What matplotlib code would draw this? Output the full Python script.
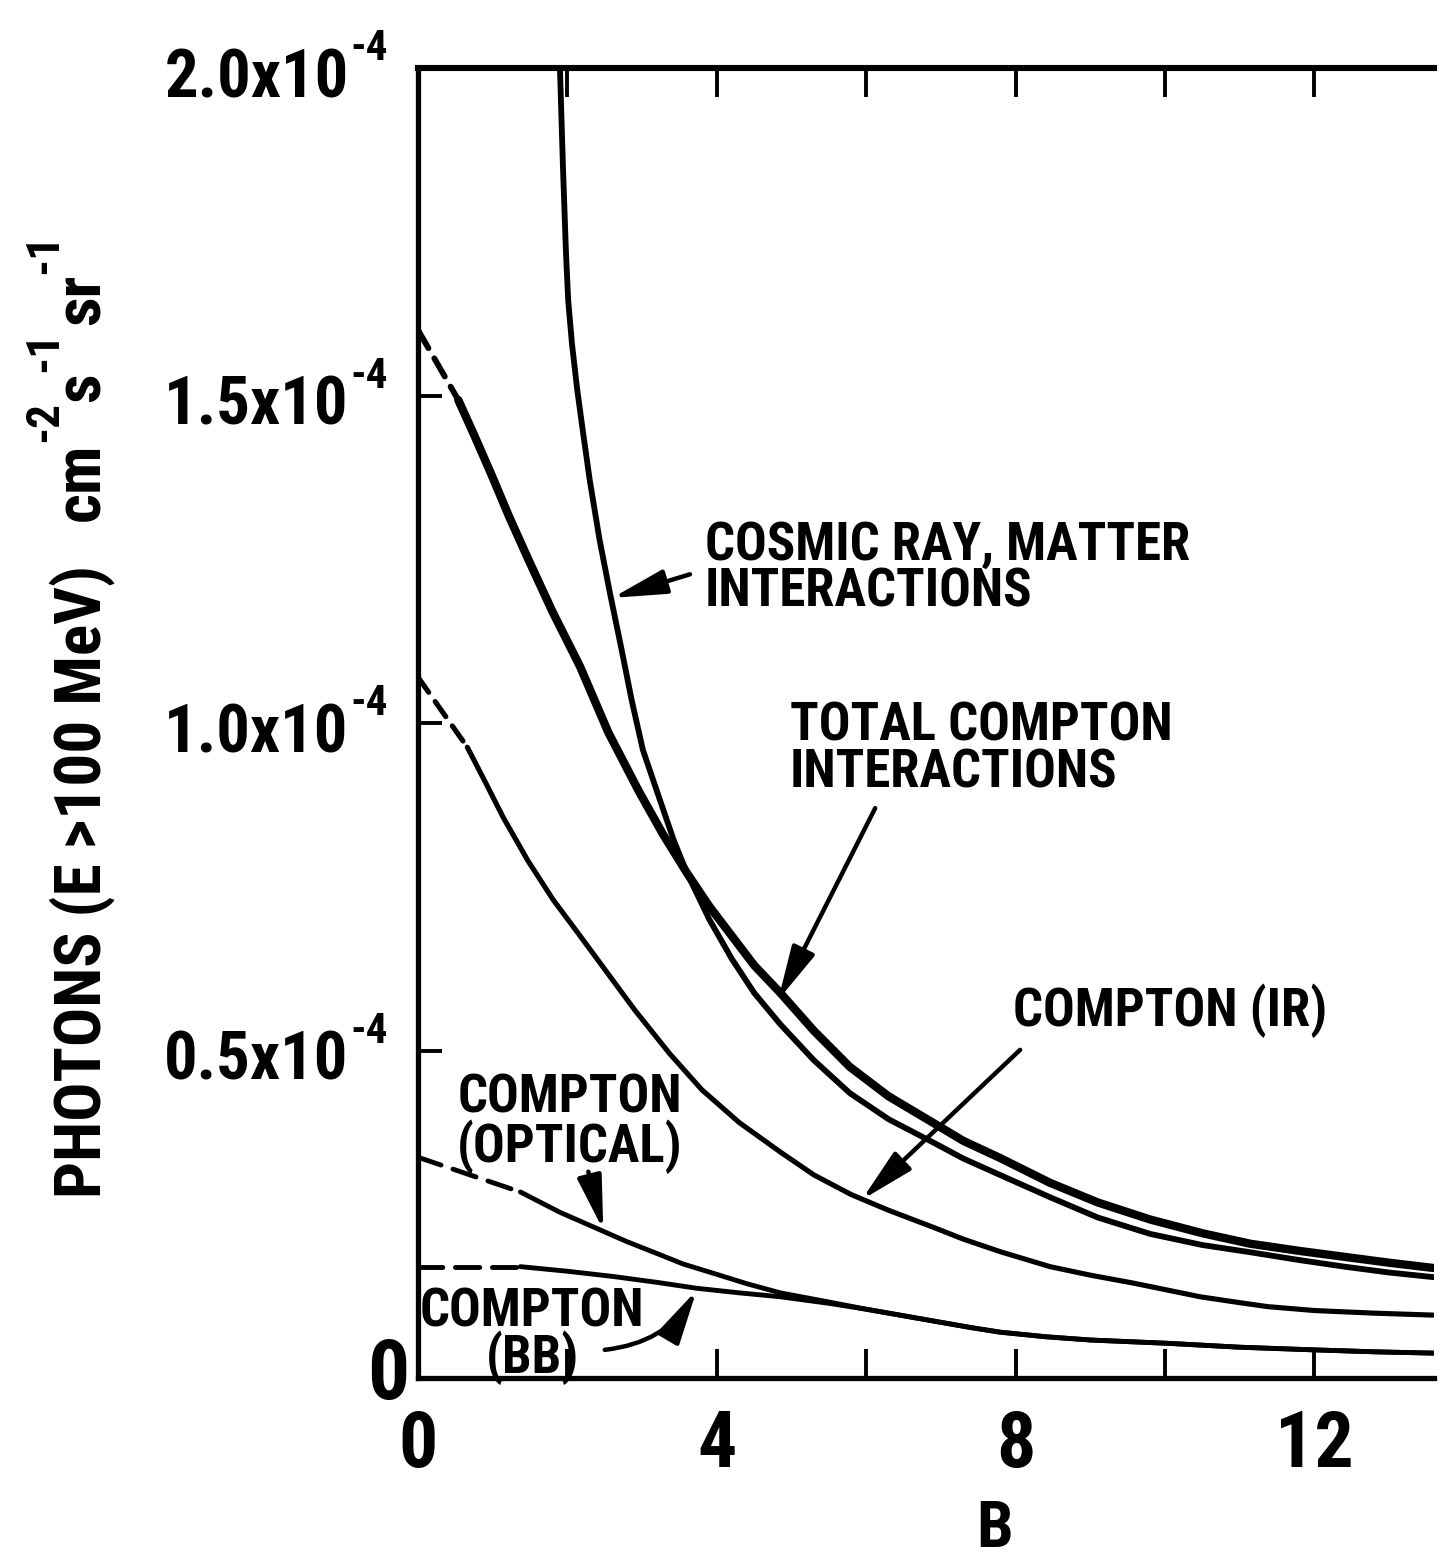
import matplotlib
matplotlib.use("Agg")
import matplotlib.pyplot as plt
import matplotlib.font_manager as fm
from matplotlib.transforms import IdentityTransform

# values in units of 1e-4 photons cm^-2 s^-1 sr^-1
cosmic_x = [1.90, 1.94, 1.98, 2.01, 2.06, 2.13, 2.21, 2.30, 2.43, 2.57, 2.72, 2.86, 3.01,
            3.24, 3.42, 3.60, 3.90, 4.20, 4.50, 4.85, 5.30, 5.78, 6.30, 6.89, 7.30, 7.79,
            8.46, 9.10, 9.80, 10.50, 11.14, 11.80, 12.40, 13.00, 13.59]
cosmic_y = [2.00, 1.85, 1.72, 1.646, 1.58, 1.51, 1.443, 1.37, 1.28, 1.198, 1.115, 1.035, 0.959,
            0.882, 0.822, 0.771, 0.700, 0.640, 0.588, 0.540, 0.485, 0.435, 0.395, 0.360, 0.335,
            0.310, 0.276, 0.245, 0.220, 0.203, 0.192, 0.180, 0.170, 0.161, 0.154]

total_dash_x = [0.0, 0.54]
total_dash_y = [1.60, 1.493]
total_x = [0.54, 0.75, 0.98, 1.22, 1.48, 1.80, 2.17, 2.55, 2.96, 3.28, 3.60, 3.90, 4.20, 4.50,
           4.85, 5.30, 5.78, 6.30, 6.89, 7.30, 7.79, 8.46, 9.10, 9.80, 10.50, 11.14, 11.80,
           12.40, 13.00, 13.59]
total_y = [1.493, 1.44, 1.38, 1.315, 1.249, 1.170, 1.086, 0.985, 0.895, 0.830, 0.771, 0.720,
           0.675, 0.630, 0.588, 0.530, 0.475, 0.430, 0.390, 0.362, 0.336, 0.298, 0.268, 0.242,
           0.221, 0.205, 0.194, 0.185, 0.176, 0.168]

ir_dash_x = [0.0, 0.66]
ir_dash_y = [1.07, 0.963]
ir_x = [0.66, 0.90, 1.14, 1.47, 1.81, 2.15, 2.48, 2.90, 3.37, 3.80, 4.30, 4.85, 5.30, 5.80,
        6.30, 6.90, 7.30, 7.79, 8.46, 9.00, 9.57, 10.00, 10.47, 11.00, 11.37, 12.00, 12.80,
        13.59]
ir_y = [0.963, 0.910, 0.856, 0.790, 0.730, 0.678, 0.627, 0.562, 0.495, 0.440, 0.390, 0.345,
        0.310, 0.280, 0.256, 0.230, 0.212, 0.193, 0.170, 0.157, 0.145, 0.135, 0.124, 0.115,
        0.109, 0.103, 0.099, 0.096]

opt_dash_x = [0.0, 1.37]
opt_dash_y = [0.337, 0.284]
opt_x = [1.37, 1.90, 2.44, 2.80, 3.20, 3.55, 3.95, 4.40, 4.85, 5.50, 6.00, 6.50, 7.00, 7.40,
         7.79, 8.40, 9.00, 10.03, 11.00, 11.98, 12.80, 13.59]
opt_y = [0.284, 0.253, 0.226, 0.208, 0.190, 0.174, 0.160, 0.144, 0.130, 0.116, 0.105, 0.095,
         0.085, 0.077, 0.070, 0.063, 0.058, 0.053, 0.047, 0.043, 0.040, 0.038]

bb_dash_x = [0.0, 1.37]
bb_dash_y = [0.170, 0.170]
bb_x = [1.37, 2.00, 2.61, 3.20, 3.73, 4.30, 4.85, 5.50, 6.00, 6.50, 7.00, 7.40, 7.79, 8.40,
        9.00, 10.03, 11.00, 11.98, 12.80, 13.59]
bb_y = [0.170, 0.163, 0.155, 0.146, 0.137, 0.130, 0.124, 0.114, 0.105, 0.095, 0.085, 0.077,
        0.070, 0.063, 0.058, 0.053, 0.047, 0.043, 0.040, 0.038]

xtick_major = [0, 4, 8, 12]
xtick_minor = [2, 6, 10]
ytick_vals = [0.5, 1.0, 1.5, 2.0]
ytick_text = ["0.5x10", "1.0x10", "1.5x10", "2.0x10"]


def pick_font():
    entries = fm.fontManager.ttflist
    names = {e.name for e in entries}
    for fam in ["Liberation Sans Narrow", "Roboto Condensed", "Open Sans Condensed",
                "Noto Sans Condensed", "DejaVu Sans Condensed"]:
        if fam in names:
            return dict(family=fam), True
    for fam in ["DejaVu Sans", "Noto Sans", "Open Sans", "Roboto"]:
        for e in entries:
            st = str(e.stretch)
            if e.name == fam and st in ("condensed", "semi-condensed", "extra-condensed", "300", "400"):
                return dict(family=fam, stretch="condensed"), True
    return dict(family="DejaVu Sans"), False


FONT, NARROW = pick_font()
SC = 1.0 if NARROW else 0.84


def fp(size):
    return fm.FontProperties(weight="bold", size=size * SC, **FONT)


W, H = 1453, 1564
fig = plt.figure(figsize=(W / 100, H / 100), dpi=100)
ax = fig.add_axes([418 / W, 1 - 1378 / H, (1434 - 418) / W, (1378 - 68) / H])
ax.set_xlim(0, 13.6)
ax.set_ylim(0, 2.0)

line_kw = dict(color="black", solid_capstyle="round", dash_capstyle="round",
               solid_joinstyle="round")
ax.plot(cosmic_x, cosmic_y, lw=4.2, **line_kw)
ax.plot(total_dash_x, total_dash_y, lw=4.2, ls=(0, (3.6, 2.0)), **line_kw)
ax.plot(total_x, total_y, lw=6.0, **line_kw)
ax.plot(ir_dash_x, ir_dash_y, lw=3.7, ls=(0, (3.6, 2.2)), **line_kw)
ax.plot(ir_x, ir_y, lw=3.7, **line_kw)
ax.plot(opt_dash_x, opt_dash_y, lw=3.5, ls=(0, (5, 2.6)), **line_kw)
ax.plot(opt_x, opt_y, lw=3.5, **line_kw)
ax.plot(bb_dash_x, bb_dash_y, lw=3.5, ls=(0, (5, 2.6)), **line_kw)
ax.plot(bb_x, bb_y, lw=3.5, **line_kw)

# frame: no right spine
ax.spines["right"].set_visible(False)
for s in ["left", "top", "bottom"]:
    ax.spines[s].set_linewidth(3.8)
ax.spines["top"].set_linewidth(4.4)

ax.set_xticks(xtick_major)
ax.set_xticklabels([str(v) for v in xtick_major])
ax.set_xticks(xtick_minor, minor=True)
ax.tick_params(axis="x", which="both", direction="in", length=21, width=2.8,
               top=True, bottom=True, pad=22)
for lab in ax.get_xticklabels():
    lab.set_fontproperties(fp(56))
ax.set_yticks([0.5, 1.0, 1.5])
ax.set_yticklabels([])
ax.tick_params(axis="y", direction="in", length=17, width=2.8, left=True, right=False)

renderer = fig.canvas.get_renderer()
ytr = ax.get_yaxis_transform()
for val, txt in zip(ytick_vals, ytick_text):
    t = ax.annotate(txt, xy=(0, val), xycoords=ytr, xytext=(-50, -8), textcoords="offset points",
                    ha="right", va="center", fontproperties=fp(48), annotation_clip=False)
    bb = t.get_window_extent(renderer)
    fig.text(bb.x1 + 2, bb.y1 - 13, "-4", transform=IdentityTransform(),
             ha="left", va="baseline", fontproperties=fp(31))
ax.annotate("0", xy=(0, 0), xycoords=ytr, xytext=(-6, 1), textcoords="offset points",
            ha="right", va="center", fontproperties=fp(60), annotation_clip=False)

# y label built piece by piece so the superscripts sit like the lettering
ylab_pieces = [("PHOTONS (E >100 MeV)", 47, 0, 0), ("cm", 47, 0, 44), ("-2", 34, -38, 0),
               ("s", 47, 0, 0), ("-1", 34, -38, 0), ("sr", 47, 0, 6), ("-1", 34, -38, 0)]
ybase = H - 1198
for s, size, dx, gap in ylab_pieces:
    ybase += gap
    t = fig.text(82 + dx, ybase, s, transform=IdentityTransform(), rotation=90,
                 ha="center", va="bottom", fontproperties=fp(size))
    ybase = t.get_window_extent(renderer).y1

fig.text(995 / W, 1 - 1547 / H, "B", ha="center", va="baseline", fontproperties=fp(47))

txt_kw = dict(fontproperties=fp(38), linespacing=0.9, va="top")
ax.text(3.84, 1.310, "COSMIC RAY, MATTER\nINTERACTIONS", ha="left", **txt_kw)
ax.text(4.98, 1.034, "TOTAL COMPTON\nINTERACTIONS", ha="left", **txt_kw)
ax.text(7.97, 0.603, "COMPTON (IR)", ha="left", **txt_kw)
ax.text(2.03, 0.466, "COMPTON\n(OPTICAL)", ha="center", multialignment="center", **txt_kw)
ax.text(1.53, 0.140, "COMPTON\n(BB)", ha="center", multialignment="center",
        fontproperties=fp(38), linespacing=0.84, va="top")

arrow = dict(arrowstyle="-|>,head_length=1.5,head_width=0.34", color="black", lw=3.2,
             mutation_scale=22, shrinkA=0, shrinkB=0)
ax.annotate("", xy=(2.60, 1.191), xytext=(3.64, 1.227), arrowprops=arrow)
ax.annotate("", xy=(4.82, 0.577), xytext=(6.12, 0.870), arrowprops=arrow)
ax.annotate("", xy=(5.94, 0.272), xytext=(8.06, 0.501), arrowprops=arrow)
ax.annotate("", xy=(2.48, 0.226), xytext=(2.28, 0.315), arrowprops=arrow)
ax.annotate("", xy=(3.73, 0.134), xytext=(2.50, 0.043),
            arrowprops=dict(arrow, connectionstyle="arc3,rad=0.25"))

fig.savefig("out.png", dpi=100)
